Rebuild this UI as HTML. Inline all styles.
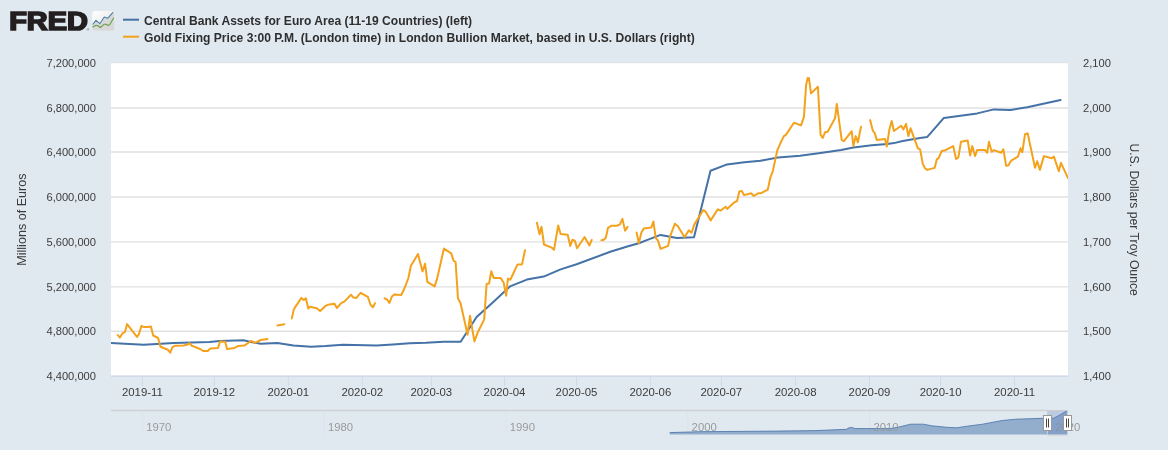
<!DOCTYPE html>
<html lang="en"><head><meta charset="utf-8"><title>FRED Graph</title>
<style>
html,body{margin:0;padding:0;background:#e1e9f0;}
body{width:1168px;height:450px;overflow:hidden;position:relative;font-family:"Liberation Sans","DejaVu Sans",sans-serif;}
svg{position:absolute;left:0;top:0;display:block}
text{font-family:"Liberation Sans","DejaVu Sans",sans-serif;}
.ax{font-size:11.15px;fill:#3c3c3c;}
.at{font-size:12.7px;fill:#3c3c3c;}
.lg{font-size:12.08px;font-weight:bold;fill:#2e2e2e;}
.nv{font-size:11.3px;fill:#9a9a9a;}
.logo{font-size:25.2px;font-weight:bold;fill:#231f20;stroke:#231f20;stroke-width:1.7px;stroke-linejoin:miter;}
</style></head><body>
<svg width="1168" height="450" viewBox="0 0 1168 450">
<defs><linearGradient id="ig" x1="0" y1="0" x2="1" y2="1"><stop offset="0" stop-color="#ffffff"/><stop offset="0.5" stop-color="#f0f0f0"/><stop offset="1" stop-color="#dcdcdc"/></linearGradient>
<clipPath id="pc"><rect x="111" y="63" width="957" height="313"/></clipPath></defs>
<rect x="0" y="0" width="1168" height="450" fill="#e1e9f0"/>
<rect x="111" y="63" width="957" height="313" fill="#ffffff"/>
<line x1="111" x2="1068" y1="62.75" y2="62.75" stroke="#e1e1e1" stroke-width="0.9"/>
<line x1="111" x2="1068" y1="108.0" y2="108.0" stroke="#e1e1e1" stroke-width="1.4"/>
<line x1="111" x2="1068" y1="152.0" y2="152.0" stroke="#e1e1e1" stroke-width="1.4"/>
<line x1="111" x2="1068" y1="197.0" y2="197.0" stroke="#e1e1e1" stroke-width="1.4"/>
<line x1="111" x2="1068" y1="241.9" y2="241.9" stroke="#e1e1e1" stroke-width="1.4"/>
<line x1="111" x2="1068" y1="286.9" y2="286.9" stroke="#e1e1e1" stroke-width="1.4"/>
<line x1="111" x2="1068" y1="331.3" y2="331.3" stroke="#e1e1e1" stroke-width="1.4"/>
<line x1="111" x2="1068" y1="376" y2="376" stroke="#c4cbe4" stroke-width="1"/>
<line x1="142.4" x2="142.4" y1="376" y2="386" stroke="#d0d9ea" stroke-width="1"/>
<text class="ax" style="font-size:11.4px" x="142.4" y="396" text-anchor="middle">2019-11</text>
<line x1="214.3" x2="214.3" y1="376" y2="386" stroke="#d0d9ea" stroke-width="1"/>
<text class="ax" style="font-size:11.4px" x="214.3" y="396" text-anchor="middle">2019-12</text>
<line x1="288.3" x2="288.3" y1="376" y2="386" stroke="#d0d9ea" stroke-width="1"/>
<text class="ax" style="font-size:11.4px" x="288.3" y="396" text-anchor="middle">2020-01</text>
<line x1="362.3" x2="362.3" y1="376" y2="386" stroke="#d0d9ea" stroke-width="1"/>
<text class="ax" style="font-size:11.4px" x="362.3" y="396" text-anchor="middle">2020-02</text>
<line x1="431.3" x2="431.3" y1="376" y2="386" stroke="#d0d9ea" stroke-width="1"/>
<text class="ax" style="font-size:11.4px" x="431.3" y="396" text-anchor="middle">2020-03</text>
<line x1="504.5" x2="504.5" y1="376" y2="386" stroke="#d0d9ea" stroke-width="1"/>
<text class="ax" style="font-size:11.4px" x="504.5" y="396" text-anchor="middle">2020-04</text>
<line x1="576.5" x2="576.5" y1="376" y2="386" stroke="#d0d9ea" stroke-width="1"/>
<text class="ax" style="font-size:11.4px" x="576.5" y="396" text-anchor="middle">2020-05</text>
<line x1="650.4" x2="650.4" y1="376" y2="386" stroke="#d0d9ea" stroke-width="1"/>
<text class="ax" style="font-size:11.4px" x="650.4" y="396" text-anchor="middle">2020-06</text>
<line x1="721.3" x2="721.3" y1="376" y2="386" stroke="#d0d9ea" stroke-width="1"/>
<text class="ax" style="font-size:11.4px" x="721.3" y="396" text-anchor="middle">2020-07</text>
<line x1="795.6" x2="795.6" y1="376" y2="386" stroke="#d0d9ea" stroke-width="1"/>
<text class="ax" style="font-size:11.4px" x="795.6" y="396" text-anchor="middle">2020-08</text>
<line x1="869.5" x2="869.5" y1="376" y2="386" stroke="#d0d9ea" stroke-width="1"/>
<text class="ax" style="font-size:11.4px" x="869.5" y="396" text-anchor="middle">2020-09</text>
<line x1="940.6" x2="940.6" y1="376" y2="386" stroke="#d0d9ea" stroke-width="1"/>
<text class="ax" style="font-size:11.4px" x="940.6" y="396" text-anchor="middle">2020-10</text>
<line x1="1014.5" x2="1014.5" y1="376" y2="386" stroke="#d0d9ea" stroke-width="1"/>
<text class="ax" style="font-size:11.4px" x="1014.5" y="396" text-anchor="middle">2020-11</text>
<text class="ax" x="96" y="67.0" text-anchor="end">7,200,000</text>
<text class="ax" x="1083" y="67.0">2,100</text>
<text class="ax" x="96" y="111.7" text-anchor="end">6,800,000</text>
<text class="ax" x="1083" y="111.7">2,000</text>
<text class="ax" x="96" y="156.4" text-anchor="end">6,400,000</text>
<text class="ax" x="1083" y="156.4">1,900</text>
<text class="ax" x="96" y="201.1" text-anchor="end">6,000,000</text>
<text class="ax" x="1083" y="201.1">1,800</text>
<text class="ax" x="96" y="245.9" text-anchor="end">5,600,000</text>
<text class="ax" x="1083" y="245.9">1,700</text>
<text class="ax" x="96" y="290.6" text-anchor="end">5,200,000</text>
<text class="ax" x="1083" y="290.6">1,600</text>
<text class="ax" x="96" y="335.3" text-anchor="end">4,800,000</text>
<text class="ax" x="1083" y="335.3">1,500</text>
<text class="ax" x="96" y="380.0" text-anchor="end">4,400,000</text>
<text class="ax" x="1083" y="380.0">1,400</text>
<text class="at" style="font-size:12.6px" transform="translate(25.8,219.6) rotate(-90)" text-anchor="middle">Millions of Euros</text>
<text class="at" style="font-size:12.2px" transform="translate(1130,219.6) rotate(90)" text-anchor="middle">U.S. Dollars per Troy Ounce</text>
<g clip-path="url(#pc)" fill="none" stroke-linejoin="round" stroke-linecap="round">
<path d="M111.0 343.1 L143.6 344.7 L173.9 343.1 L209.7 342.1 L219.4 341.0 L243.5 340.3 L251.1 342.0 L260.7 343.8 L277.4 342.9 L293.4 345.6 L311.0 346.7 L325.4 346.1 L343.0 344.8 L376.6 345.6 L392.9 344.4 L409.8 343.2 L426.0 342.7 L443.7 341.7 L460.7 341.8 L476.6 317.0 L493.3 302.1 L510.0 286.4 L526.9 279.6 L543.7 276.6 L560.6 269.4 L576.6 264.2 L610.3 251.8 L628.1 246.2 L638.8 243.2 L649.4 239.1 L660.5 234.9 L677.0 237.9 L694.0 237.3 L710.5 170.7 L727.1 164.4 L744.4 162.3 L760.4 160.8 L777.8 157.6 L794.0 156.3 L800.0 155.7 L820.5 153.0 L841.1 149.9 L853.4 147.4 L871.9 145.3 L887.3 143.9 L894.0 143.1 L902.7 141.0 L920.0 138.0 L927.1 137.1 L943.9 117.9 L977.2 113.4 L993.9 109.4 L1010.6 109.9 L1027.2 107.2 L1060.6 99.9" stroke="#4572a7" stroke-width="2"/>
<path d="M117.8 335.1 L119.9 337.6 L122.2 333.7 L125.0 332.0 L127.1 324.1 L137.0 336.9 L138.8 334.5 L141.5 325.8 L143.6 327.0 L147.7 327.0 L150.9 326.5 L153.2 335.5 L158.1 338.0 L160.5 346.8 L167.7 349.7 L170.2 352.7 L172.5 347.2 L174.9 345.8 L183.6 345.4 L187.7 344.5 L189.3 343.1 L191.8 345.8 L200.1 349.0 L203.5 351.1 L207.7 351.1 L210.4 348.6 L218.0 347.9 L220.1 341.4 L225.2 341.7 L227.0 349.0 L234.5 347.9 L238.0 346.1 L244.2 345.6 L251.1 341.0 L255.2 342.8 L260.7 340.0 L267.5 338.9" stroke="#f4a21b" stroke-width="2"/>
<path d="M277.4 325.6 L284.3 324.2" stroke="#f4a21b" stroke-width="2"/>
<path d="M291.8 318.4 L293.9 309.1 L301.4 297.9 L303.8 300.0 L305.9 298.4 L308.3 308.5 L310.2 306.7 L316.6 308.3 L320.1 310.9 L325.4 305.9 L327.8 304.8 L334.5 303.7 L336.9 308.0 L341.4 302.9 L344.3 301.6 L351.0 294.7 L353.4 297.6 L356.3 297.9 L360.6 292.8 L367.8 296.8 L370.5 304.8 L372.9 307.2 L375.0 303.2" stroke="#f4a21b" stroke-width="2"/>
<path d="M384.6 298.4 L387.0 299.5 L389.4 302.9 L391.8 296.8 L394.2 294.4 L401.2 295.0 L403.6 290.3 L406.0 284.3 L408.4 278.0 L410.9 265.8 L418.0 254.1 L422.5 271.4 L425.1 263.7 L427.3 281.8 L434.6 286.4 L437.0 279.1 L443.9 248.6 L451.2 253.4 L453.6 260.8 L455.6 262.0 L458.0 298.6 L460.5 303.0 L467.6 334.8 L470.0 315.7 L474.4 341.4 L477.6 332.8 L484.2 319.4 L486.6 284.0 L489.1 283.5 L491.3 271.3 L493.7 277.9 L500.5 277.9 L503.7 282.8 L506.2 295.7 L507.9 278.6 L510.3 279.8 L517.6 264.4 L522.0 264.4 L525.0 250.3" stroke="#f4a21b" stroke-width="2"/>
<path d="M536.9 222.8 L539.6 234.3 L541.5 226.7 L544.0 244.5 L551.7 247.7 L554.0 249.8 L558.2 225.4 L560.6 234.0 L567.7 234.7 L570.3 245.9 L572.5 239.7 L574.8 240.6 L577.1 248.2 L584.6 237.0 L589.4 245.5 L591.7 240.0" stroke="#f4a21b" stroke-width="2"/>
<path d="M601.4 240.2 L603.8 239.7 L605.9 237.5 L608.0 227.8 L611.2 225.8 L616.6 225.8 L619.8 224.6 L622.4 218.9 L625.1 230.8 L627.6 226.9" stroke="#f4a21b" stroke-width="2"/>
<path d="M636.6 232.6 L638.8 243.2 L641.4 232.6 L643.8 228.5 L651.2 227.6 L653.4 221.5 L655.7 237.9 L658.0 240.6 L660.6 248.9 L668.1 245.9 L670.2 236.1 L674.9 223.7 L677.9 226.3 L684.4 237.1 L688.9 230.4 L691.6 232.7 L694.4 224.4 L703.3 210.0 L705.6 211.6 L710.7 220.4 L717.8 209.3 L720.4 210.7 L725.6 206.7 L727.1 208.9 L734.4 202.2 L737.1 201.1 L739.3 191.6 L741.8 191.1 L744.0 195.1 L751.1 193.3 L753.8 196.0 L758.2 193.3 L760.7 193.3 L767.8 189.6 L770.4 177.3 L772.7 171.6 L777.2 150.6 L780.6 142.8 L783.9 136.1 L786.1 134.6 L793.9 122.8 L801.0 125.4 L803.9 117.2 L806.1 85.0 L807.7 77.9 L809.0 78.3 L811.0 93.4 L817.9 86.8 L820.6 135.0 L822.8 137.9 L825.0 132.3 L827.7 131.7 L835.0 118.3 L836.8 103.9 L841.7 140.1 L843.9 141.2 L851.7 131.2 L853.4 146.1 L855.7 136.1 L857.9 142.3 L861.0 126.8" stroke="#f4a21b" stroke-width="2"/>
<path d="M870.1 120.1 L872.8 130.6 L874.6 132.8 L876.8 139.9 L885.0 139.0 L886.8 146.6 L889.4 129.4 L891.7 121.0 L893.9 131.0 L901.2 125.7 L903.4 129.4 L906.1 123.9 L908.3 136.1 L910.6 128.3 L917.9 148.3 L920.1 149.4 L922.8 163.9 L925.0 168.3 L927.2 169.9 L934.6 167.9 L936.8 159.4 L938.8 157.9 L941.7 151.0 L944.6 150.6 L953.2 146.1 L956.1 159.0 L958.3 157.7 L961.0 141.7 L967.7 140.6 L970.1 155.4 L972.3 146.1 L975.0 156.1 L977.2 150.1 L985.0 149.9 L987.2 152.8 L989.0 141.7 L991.7 151.7 L993.9 150.1 L1001.2 152.8 L1003.4 149.4 L1006.1 165.7 L1008.3 165.4 L1011.2 160.6 L1017.9 156.6 L1020.6 148.3 L1022.3 152.3 L1025.0 134.3 L1027.7 133.4 L1035.0 167.7 L1037.2 161.2 L1039.9 169.9 L1043.9 156.1 L1051.7 158.3 L1053.9 156.6 L1058.8 171.2 L1061.0 162.8 L1067.9 177.9" stroke="#f4a21b" stroke-width="2"/>
</g>
<rect x="123" y="18.7" width="16" height="2" fill="#4572a7"/>
<rect x="123" y="35.7" width="16" height="2" fill="#f4a21b"/>
<text class="lg" x="144" y="24.5">Central Bank Assets for Euro Area (11-19 Countries) (left)</text>
<text class="lg" x="144" y="41.5">Gold Fixing Price 3:00 P.M. (London time) in London Bullion Market, based in U.S. Dollars (right)</text>
<text class="logo" transform="translate(9.15,30.05) scale(1.148,1)">FRED</text>
<text x="86.6" y="31.4" style="font-size:3.6px;fill:#444">®</text>
<rect x="92.3" y="11" width="22" height="19.8" rx="3" ry="3" fill="url(#ig)"/>
<clipPath id="ic"><rect x="92.3" y="11" width="22" height="19.8" rx="3" ry="3"/></clipPath>
<path clip-path="url(#ic)" d="M92.3 24.7 L96 20.3 L99.8 23.7 L104.3 17 L107.7 18.3 L113 12.3 L114.3 11 L114.3 30.8 L92.3 30.8 Z" fill="#d6d6d6" fill-opacity="0.9"/>
<path d="M92.6 24.5 L96 20.3 L99.8 23.7 L104.3 17 L107.7 18.3 L113 12.3" fill="none" stroke="#4a7fa8" stroke-width="1.1" stroke-linejoin="round"/>
<path d="M92.5 27.3 L96 25.3 L98 25.7 L100.3 27.5 L104 24.3 L106 24.3 L108 25.5 L109.7 24.7 L113.7 17.7" fill="none" stroke="#66a046" stroke-width="1.1" stroke-linejoin="round"/>
<line x1="111" x2="1047.5" y1="410.5" y2="410.5" stroke="#cfd1d4" stroke-width="1.3"/>
<line x1="142.4" x2="142.4" y1="411" y2="434" stroke="#dce2e9" stroke-width="1"/>
<line x1="324.2" x2="324.2" y1="411" y2="434" stroke="#dce2e9" stroke-width="1"/>
<line x1="506.0" x2="506.0" y1="411" y2="434" stroke="#dce2e9" stroke-width="1"/>
<line x1="687.8" x2="687.8" y1="411" y2="434" stroke="#dce2e9" stroke-width="1"/>
<line x1="869.6" x2="869.6" y1="411" y2="434" stroke="#dce2e9" stroke-width="1"/>
<line x1="1051.4" x2="1051.4" y1="411" y2="434" stroke="#dce2e9" stroke-width="1"/>
<path d="M669.7 434.5 L669.7 432.6 L700 431.7 L777 431.1 L815.6 430.6 L846.4 429.3 L849 427.8 L851.6 427.5 L855.4 428.6 L869.5 428.6 L890 428.6 L899 427 L910.6 424.2 L923.5 424.2 L931.2 425.7 L946.6 427.3 L956.9 427.8 L967.1 426.2 L982.6 424.2 L1002.2 420.5 L1016 419.2 L1043.3 418.3 L1053.6 418.3 L1060.5 414.6 L1067.3 410.6 L1067.3 434.5 Z" fill="#4572a7" fill-opacity="0.5"/>
<path d="M669.7 432.6 L700 431.7 L777 431.1 L815.6 430.6 L846.4 429.3 L849 427.8 L851.6 427.5 L855.4 428.6 L869.5 428.6 L890 428.6 L899 427 L910.6 424.2 L923.5 424.2 L931.2 425.7 L946.6 427.3 L956.9 427.8 L967.1 426.2 L982.6 424.2 L1002.2 420.5 L1016 419.2 L1043.3 418.3 L1053.6 418.3 L1060.5 414.6 L1067.3 410.6" fill="none" stroke="#4572a7" stroke-width="1" stroke-opacity="0.8"/>
<text class="nv" x="146.2" y="430.9">1970</text>
<text class="nv" x="328.0" y="430.9">1980</text>
<text class="nv" x="509.8" y="430.9">1990</text>
<text class="nv" x="691.6" y="430.9">2000</text>
<text class="nv" x="873.4" y="430.9">2010</text>
<text class="nv" x="1055.2" y="430.9">2020</text>
<rect x="1047.5" y="410" width="20" height="25" fill="#6685c2" fill-opacity="0.3"/>
<path d="M1047.5 410.5 L1047.5 435 L1067.5 435 L1067.5 410.5 Z" fill="none" stroke="#cccccc" stroke-width="1"/>
<rect x="1043.5" y="415.5" width="8" height="15" fill="#ffffff" stroke="#999999" stroke-width="1"/>
<line x1="1046.5" x2="1046.5" y1="418.5" y2="427.5" stroke="#444" stroke-width="1"/>
<line x1="1048.5" x2="1048.5" y1="418.5" y2="427.5" stroke="#444" stroke-width="1"/>
<rect x="1063.5" y="415.5" width="8" height="15" fill="#ffffff" stroke="#999999" stroke-width="1"/>
<line x1="1066.5" x2="1066.5" y1="418.5" y2="427.5" stroke="#444" stroke-width="1"/>
<line x1="1068.5" x2="1068.5" y1="418.5" y2="427.5" stroke="#444" stroke-width="1"/>
</svg></body></html>
